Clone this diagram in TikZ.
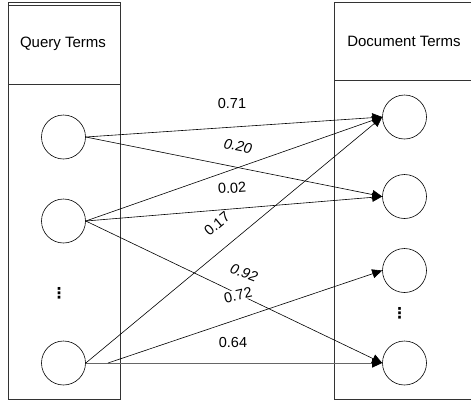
\documentclass[tikz,border=0pt]{standalone}
\usepackage{fontspec}
\setmainfont{Liberation Sans}
\newfontfamily\symfont{DejaVu Sans}
\usetikzlibrary{arrows.meta}
\tikzset{
  frame/.style={draw=black!80, line width=0.9pt},
  term/.style={draw, circle, minimum size=44pt, inner sep=0pt, line width=0.6pt},
  edge/.style={line width=0.6pt, -{Triangle[length=10pt,width=9pt,color=black]}},
  wlabel/.style={font=\fontsize{14.5}{16}\selectfont, inner sep=0.5pt},
  wlabelbg/.style={wlabel, fill=white},
  header/.style={font=\fontsize{15}{18}\selectfont},
  vdots/.style={font=\symfont\fontsize{15}{15}\selectfont\bfseries, inner sep=0pt},
}
\begin{document}
\begin{tikzpicture}[x=1pt,y=-1pt]
\useasboundingbox (0,0) rectangle (471,400);
% left column
\draw[frame] (8,2) rectangle (120,399);
\draw[frame] (8,5) -- (120,5);
\draw[frame] (8,84) -- (120,84);
\node[header] (qh) at (63,44) {Query Terms};
% right column
\draw[frame] (475,2) -- (334,2) -- (334,399) -- (475,399);
\draw[frame] (334,80) -- (475,80);
\node[header] (dh) at (404,41) {Document Terms};
% terms
\node[term] (q1) at (63.5,137) {};
\node[term] (q2) at (63.5,221) {};
\node[term] (q3) at (63.5,363) {};
\node[vdots] (qd) at (59,293) {⋮};
\node[term] (d1) at (404.5,117) {};
\node[term] (d2) at (404.5,196.5) {};
\node[term] (d3) at (404.5,270.5) {};
\node[term] (d4) at (404.5,363) {};
\node[vdots] (dd) at (399.5,313) {⋮};
\coordinate (br) at (108,363);
% edges
\draw[edge] (q1.east) -- (d1.west);
\draw[edge] (q1.east) -- (d2.west);
\draw[edge] (q2.east) -- (d1.west);
\draw[edge] (q2.east) -- (d2.west);
\draw[edge] (q2.east) -- (d4.west);
\draw[edge] (q3.east) -- (d1.west);
\draw[edge, draw=black!60, line width=1pt] (q3.east) -- (d4.west);
\draw[edge] (br) -- (d3.west);
% labels
\node[wlabel] (l1) at (232,104) {0.71};
\node[wlabel, rotate=-11] (l2) at (238,146) {\itshape 0.20};
\node[wlabel, rotate=4] (l3) at (232,188) {0.02};
\node[wlabelbg, rotate=40] (l4) at (217,224) {0.17};
\node[wlabel, rotate=-21] (l5) at (244,273) {\itshape 0.92};
\node[wlabelbg, rotate=13] (l6) at (238,295) {0.72};
\node[wlabel] (l7) at (233,342) {0.64};
\end{tikzpicture}
\end{document}
